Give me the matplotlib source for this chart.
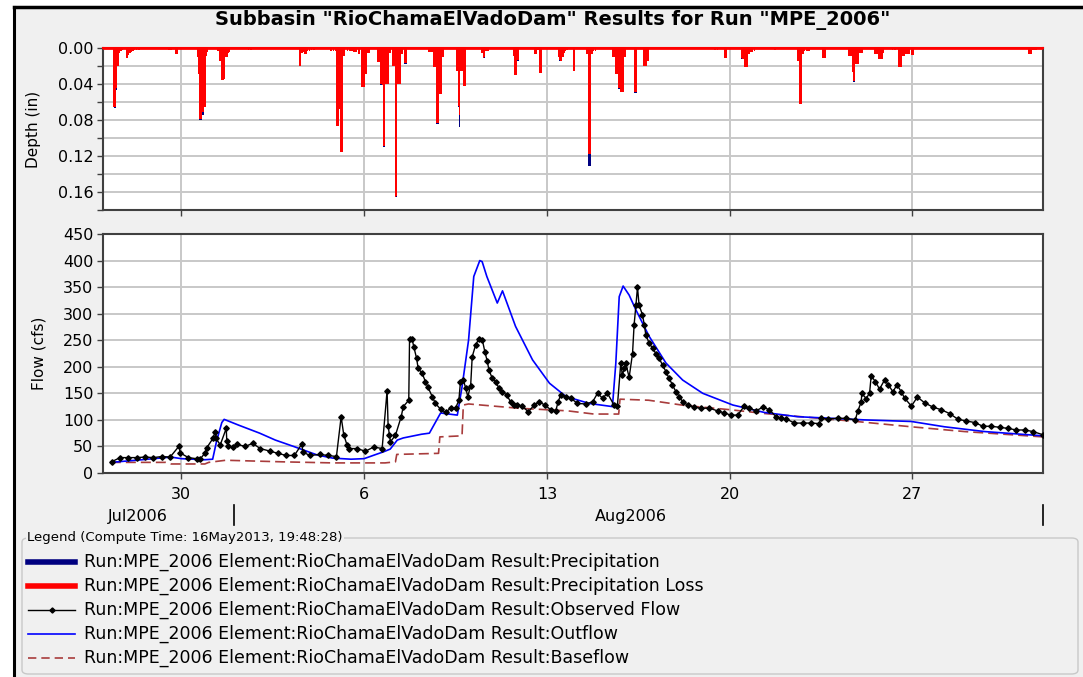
# HEC-HMS style subbasin results: precipitation hyetograph on top, flows below

import numpy as np
import matplotlib.pyplot as plt
from matplotlib.lines import Line2D
from matplotlib.patches import Rectangle, FancyBboxPatch
from matplotlib.transforms import blended_transform_factory

# ---- data (time in days after 27Jul2006 00:00) ----
# hourly precipitation depth (in), hour index after start
pr_hour = [9, 10, 11, 12, 13, 14, 15, 16, 17, 21, 22, 24, 25, 26, 27, 28, 30, 32,
           60, 62, 66, 67,
           86, 87, 88, 89, 90, 91, 92, 93, 94, 95,
           105, 106, 107, 108, 109, 110, 111, 112, 113, 114, 115, 133, 135,
           180, 181, 182, 183, 184, 185, 186, 187, 189, 191, 193,
           209, 211, 213, 214, 215, 216, 217, 218, 219, 220, 221, 224, 226, 228, 230, 232, 234, 235,
           237, 238, 239, 240, 241, 242, 243, 244,
           252, 253, 254, 255, 256, 257, 258, 259, 260, 261, 262, 263, 266, 267, 268, 269, 270, 271,
           272, 273, 274, 277, 278,
           299, 300, 301, 302, 303, 304, 305, 306, 307, 308, 309, 310, 311, 312,
           324, 325, 326, 327, 328, 329, 330, 331, 332,
           347, 348, 349, 350, 351, 353,
           377, 378, 379, 380, 381, 396, 397, 399, 401, 402,
           418, 419, 420, 421, 422, 423, 424, 426, 432,
           444, 445, 446, 447, 448, 449, 450, 452,
           468, 469, 470, 471, 472, 473, 474, 475, 476, 477, 478, 479,
           488, 489, 496, 497, 498, 499, 500, 562, 564, 571, 572,
           586, 587, 588, 589, 590, 591, 592, 593, 594, 596, 598,
           617, 638, 639, 640, 641, 642, 643, 644, 646, 648, 661, 662, 663,
           685, 686, 687, 688, 689, 690, 691, 692, 693, 694, 695, 696, 697,
           709, 710, 711, 712, 713, 714, 715, 716,
           725, 727, 731, 732, 733, 734, 735, 736, 737, 738, 739, 740, 743, 744,
           850, 851, 852, 853, 855, 857]
pr_loss = [.066, .066, .045, .020, .020, .005, .003, .003, .002, .011, .008, .005, .004, .003, .003, .002, .002, .002,
           .002, .002, .007, .007,
           .010, .029, .079, .079, .071, .071, .066, .066, .009, .004,
           .003, .003, .014, .036, .036, .036, .034, .010, .010, .005, .004, .002, .002,
           .020, .005, .005, .004, .003, .007, .007, .003, .003, .002, .002,
           .003, .003, .003, .087, .087, .068, .068, .116, .116, .009, .009, .003, .003, .003, .004, .004, .007, .007,
           .043, .043, .043, .029, .029, .005, .005, .005,
           .016, .016, .016, .040, .041, .109, .109, .040, .040, .040, .005, .005, .020, .020, .166, .165, .040, .040,
           .040, .007, .007, .017, .017,
           .004, .004, .004, .004, .021, .021, .021, .083, .083, .051, .051, .051, .010, .010,
           .025, .025, .064, .075, .025, .025, .025, .042, .042,
           .005, .005, .011, .010, .003, .003,
           .009, .030, .030, .013, .013, .007, .007, .002, .028, .028,
           .010, .013, .014, .010, .010, .005, .003, .002, .025,
           .007, .007, .118, .118, .007, .007, .003, .003,
           .010, .010, .010, .029, .029, .044, .044, .049, .049, .049, .010, .010,
           .049, .049, .020, .020, .020, .014, .014, .002, .002, .011, .011,
           .011, .012, .012, .021, .021, .021, .007, .007, .004, .004, .003,
           .002, .014, .014, .062, .062, .007, .007, .003, .003, .003, .011, .011, .011,
           .009, .009, .009, .027, .037, .037, .018, .018, .018, .005, .005, .005, .005,
           .007, .007, .007, .012, .012, .012, .012, .005,
           .002, .002, .021, .021, .021, .009, .009, .009, .007, .007, .007, .007, .008, .008,
           .007, .007, .007, .002, .002, .002]
pr_total = [.066, .067, .047, .020, .020, .005, .003, .003, .002, .011, .008, .005, .004, .003, .003, .002, .002, .002,
            .002, .002, .007, .007,
            .010, .029, .080, .080, .075, .075, .066, .066, .009, .004,
            .003, .003, .014, .036, .036, .036, .034, .010, .010, .005, .004, .002, .002,
            .020, .005, .005, .004, .003, .007, .007, .003, .003, .002, .002,
            .003, .003, .003, .087, .087, .068, .068, .116, .116, .009, .009, .003, .003, .003, .004, .004, .007, .007,
            .043, .043, .043, .029, .029, .005, .005, .005,
            .016, .016, .016, .041, .041, .110, .110, .040, .040, .040, .005, .005, .020, .020, .166, .166, .040, .040,
            .040, .007, .007, .018, .018,
            .004, .004, .004, .004, .021, .021, .021, .084, .084, .051, .051, .051, .010, .010,
            .025, .025, .066, .088, .025, .025, .025, .042, .042,
            .005, .005, .011, .011, .003, .003,
            .009, .030, .030, .014, .014, .007, .007, .002, .028, .028,
            .010, .014, .014, .010, .010, .005, .003, .002, .026,
            .007, .007, .131, .131, .007, .007, .003, .003,
            .010, .010, .010, .029, .029, .046, .046, .049, .049, .049, .010, .010,
            .050, .050, .020, .020, .020, .014, .014, .002, .002, .011, .011,
            .012, .012, .012, .021, .021, .021, .007, .007, .004, .004, .003,
            .002, .014, .014, .062, .062, .007, .007, .003, .003, .003, .011, .011, .011,
            .009, .009, .009, .027, .038, .038, .018, .018, .018, .005, .005, .005, .005,
            .007, .007, .007, .012, .012, .012, .012, .005,
            .002, .002, .021, .021, .021, .009, .009, .009, .007, .007, .007, .007, .008, .008,
            .007, .007, .007, .002, .002, .002]

# observed flow (cfs)
obs_day = [0.33, 0.65, 0.97, 1.29, 1.61, 1.93, 2.25, 2.57, 2.92, 2.95,
           3.27, 3.59, 3.72, 3.91, 3.98, 4.21, 4.30, 4.33, 4.49, 4.72,
           4.74, 4.79, 4.99, 5.13, 5.45, 5.73, 6.02, 6.41, 6.70, 7.02,
           7.33, 7.62, 7.65, 7.94, 8.30, 8.62, 8.94, 9.12, 9.22, 9.35,
           9.41, 9.73, 10.05, 10.37, 10.69, 10.88, 10.92, 10.97, 11.01, 11.20,
           11.42, 11.50, 11.71, 11.74, 11.84, 11.90, 12.01, 12.07, 12.22, 12.35,
           12.45, 12.61, 12.73, 12.93, 13.12, 13.31, 13.50, 13.63, 13.69, 13.80,
           13.89, 13.97, 14.08, 14.14, 14.27, 14.40, 14.53, 14.63, 14.72, 14.78,
           14.91, 15.04, 15.16, 15.29, 15.46, 15.61, 15.74, 15.87, 16.06, 16.29,
           16.51, 16.70, 16.92, 17.15, 17.34, 17.43, 17.53, 17.72, 17.91, 18.17,
           18.49, 18.75, 18.94, 19.13, 19.32, 19.57, 19.70, 19.83, 19.89, 19.96,
           20.02, 20.15, 20.28, 20.34, 20.41, 20.47, 20.53, 20.66, 20.73, 20.79,
           20.92, 21.05, 21.17, 21.30, 21.43, 21.56, 21.68, 21.81, 21.94, 22.07,
           22.20, 22.39, 22.64, 22.90, 23.22, 23.54, 23.79, 24.05, 24.31, 24.56,
           24.75, 25.01, 25.27, 25.52, 25.78, 25.97, 26.16, 26.48, 26.80, 27.12,
           27.44, 27.48, 27.76, 28.14, 28.46, 28.81, 28.91, 29.04, 29.06, 29.23,
           29.36, 29.42, 29.58, 29.74, 29.93, 30.08, 30.25, 30.41, 30.57, 30.70,
           30.96, 31.19, 31.47, 31.79, 32.11, 32.42, 32.75, 33.06, 33.38, 33.70,
           34.02, 34.34, 34.66, 34.98, 35.30, 35.62, 36.00]
obs_cfs = [21, 29, 29, 29, 30, 29, 31, 30, 51, 38,
           29, 27, 26, 38, 48, 65, 78, 65, 53, 84,
           61, 50, 49, 54, 50, 56, 46, 41, 37, 33,
           33, 55, 39, 33, 35, 33, 31, 106, 72, 52,
           46, 46, 41, 49, 46, 155, 88, 72, 59, 71,
           106, 125, 137, 252, 252, 238, 216, 197, 188, 172,
           161, 144, 131, 120, 114, 122, 122, 137, 172, 175,
           160, 144, 164, 219, 241, 253, 250, 227, 210, 194,
           178, 172, 160, 153, 147, 134, 128, 128, 126, 115,
           128, 134, 128, 119, 117, 134, 147, 144, 141, 131,
           130, 134, 150, 141, 150, 128, 126, 207, 184, 197,
           207, 180, 225, 279, 316, 350, 316, 298, 279, 260,
           244, 235, 225, 216, 203, 191, 178, 166, 153, 144,
           134, 128, 124, 122, 122, 117, 113, 109, 109, 126,
           122, 117, 124, 119, 106, 103, 102, 94, 94, 94,
           93, 103, 102, 103, 103, 100, 117, 134, 150, 140,
           151, 183, 172, 158, 175, 166, 153, 166, 153, 141,
           126, 143, 132, 124, 119, 112, 101, 98, 95, 88,
           88, 86, 84, 81, 81, 78, 72]

# simulated outflow (cfs)
out_day = [0.3, 1.5, 2.6, 3.0, 3.9, 4.2, 4.35, 4.55, 4.64, 5.2, 6.0, 6.6, 7.3, 8.2, 8.8, 9.5,
           10.0, 10.4, 10.75, 11.0, 11.27, 11.5, 12.2, 12.5, 12.93, 13.57, 13.75, 14.0, 14.2,
           14.43, 14.52, 14.7, 15.1, 15.3, 15.8, 16.45, 17.1, 17.73, 18.62, 19.51, 19.64,
           19.77, 19.92, 20.15, 20.41, 20.92, 21.56, 22.2, 22.97, 24.12, 25.33, 26.6, 27.89,
           29.17, 30.96, 32.23, 33.77, 36.0]
out_cfs = [20, 25, 30, 27, 25, 26, 60, 95, 101, 90, 75, 62, 50, 34, 28, 26,
           27, 34, 40, 45, 62, 66, 73, 75, 113, 109, 162, 250, 370,
           400, 398, 370, 320, 343, 276, 213, 169, 144, 131, 125, 207,
           332, 352, 335, 307, 257, 207, 175, 150, 128, 114, 106, 103,
           100, 97, 87, 78, 70]

# baseflow (cfs)
base_day = [0.3, 2.4, 2.6, 3.9, 4.05, 4.7, 6.9, 8.8, 10.8, 11.2, 11.25, 12.85, 12.9, 13.75,
            13.8, 14.0, 15.9, 17.8, 18.8, 19.75, 19.8, 20.9, 22.3, 24.05, 25.33, 28.85,
            30.96, 33.0, 36.0]
base_cfs = [20, 20, 17, 17, 20, 24, 21, 19, 19, 21, 35, 37, 68, 70,
            128, 130, 122, 117, 111, 111, 139, 137, 127, 119, 112, 97,
            87, 78, 68]

tick_days = [3, 10, 17, 24, 31]
tick_text = ["30", "6", "13", "20", "27"]
month_text = ["Jul2006", "Aug2006"]
legend_names = ["Precipitation", "Precipitation Loss", "Observed Flow", "Outflow", "Baseflow"]

# ---- figure, laid out in pixels ----
W, H = 1083, 677
fx = lambda px: px / W
fy = lambda py: 1 - py / H

fig = plt.figure(figsize=(W / 100, H / 100), dpi=100, facecolor="white")
fig.patches.append(Rectangle((fx(14), 0), 1, fy(7), transform=fig.transFigure,
                             facecolor="#f0f0f0", edgecolor="none", zorder=-10))
fig.add_artist(Line2D([fx(14), fx(14)], [0, fy(7)], transform=fig.transFigure, color="black", linewidth=2.2))
fig.add_artist(Line2D([fx(14), 1], [fy(7), fy(7)], transform=fig.transFigure, color="black", linewidth=2.5))

fig.text(fx(553), fy(20), 'Subbasin "RioChamaElVadoDam" Results for Run "MPE_2006"',
         ha="center", va="center", fontsize=14, fontweight="bold")

grid_col = "#c8c8c8"
spine_col = "#404040"

# top panel: depth, inverted
ax1 = fig.add_axes([fx(103), fy(210), fx(940), 162 / H])
x_bar = np.array(pr_hour) / 24.0
ax1.bar(x_bar, pr_total, width=0.065, align="edge", color="#000080", linewidth=0, zorder=3)
ax1.bar(x_bar, pr_loss, width=0.065, align="edge", color="#ff0000", linewidth=0, zorder=4)
ax1.axhline(0, color="#ff0000", linewidth=2, zorder=5)
ax1.set_xlim(0, 36)
ax1.set_ylim(0.18, 0)
ax1.set_yticks(np.arange(0, 0.161, 0.04))
ax1.set_yticks(np.arange(0.02, 0.181, 0.04), minor=True)
ax1.set_yticklabels(["0.00", "0.04", "0.08", "0.12", "0.16"])
ax1.set_xticks(tick_days)
ax1.tick_params(axis="x", length=0, labelbottom=False)
ax1.set_ylabel("Depth (in)", fontsize=11, labelpad=12)

# bottom panel: flow
ax2 = fig.add_axes([fx(103), fy(473), fx(940), 239 / H])
ax2.plot(base_day, base_cfs, color="#a83c3c", linewidth=1.2, dashes=(6, 3), zorder=3)
ax2.plot(out_day, out_cfs, color="#0000ff", linewidth=1.2, zorder=4)
ax2.plot(obs_day, obs_cfs, color="black", linewidth=1, marker="D", markersize=2.8, zorder=5)
ax2.set_xlim(0, 36)
ax2.set_ylim(0, 450)
ax2.set_yticks(np.arange(0, 451, 50))
ax2.set_xticks(tick_days)
ax2.set_xticklabels(tick_text)
ax2.set_ylabel("Flow (cfs)", fontsize=11, labelpad=12)

for ax in (ax1, ax2):
    ax.set_facecolor("white")
    ax.grid(True, which="both", color=grid_col, linewidth=1.4, zorder=0)
    ax.set_axisbelow(True)
    for s in ax.spines.values():
        s.set_color(spine_col)
        s.set_linewidth(1.5)
    ax.tick_params(which="both", direction="out", length=4, width=1, color=spine_col,
                   labelsize=11.5, pad=3)
ax1.spines["top"].set_color("#ff0000")
ax2.tick_params(axis="x", pad=6)

# month row under the day ticks
tr = blended_transform_factory(ax2.transData, fig.transFigure)
fig.text(1.32, fy(516), month_text[0], transform=tr, ha="center", va="center", fontsize=11.5)
fig.text(20.2, fy(516), month_text[1], transform=tr, ha="center", va="center", fontsize=11.5)
for d in (5, 36):
    fig.add_artist(Line2D([d, d], [fy(505), fy(525)], transform=tr, color="black", linewidth=1.2))

# legend block
fig.patches.append(FancyBboxPatch((fx(22), fy(674)), fx(1078 - 22), (674 - 538) / H,
                                  boxstyle="round,pad=0,rounding_size=0.006",
                                  transform=fig.transFigure, facecolor="#f0f0f0",
                                  edgecolor="#c8c8c8", linewidth=1, zorder=-5))
fig.text(fx(27), fy(537), "Legend (Compute Time: 16May2013, 19:48:28)", ha="left", va="center",
         fontsize=9.5, bbox=dict(facecolor="#f0f0f0", edgecolor="none", pad=1))

prefix = "Run:MPE_2006 Element:RioChamaElVadoDam Result:"
rows = [562, 586, 610, 634, 658]
styles = [dict(color="#000080", linewidth=4),
          dict(color="#ff0000", linewidth=4),
          dict(color="black", linewidth=1),
          dict(color="#0000ff", linewidth=1.2),
          dict(color="#a83c3c", linewidth=1.2, dashes=(5, 3))]
for y, name, st in zip(rows, legend_names, styles):
    fig.add_artist(Line2D([fx(28), fx(75)], [fy(y), fy(y)], transform=fig.transFigure, **st))
    fig.text(fx(84), fy(y), prefix + name, ha="left", va="center", fontsize=12.5)
fig.add_artist(Line2D([fx(51.5)], [fy(610)], transform=fig.transFigure, marker="D",
                      markersize=2.6, color="black", linestyle="none"))

fig.savefig("out.png", dpi=100, facecolor=fig.get_facecolor())
